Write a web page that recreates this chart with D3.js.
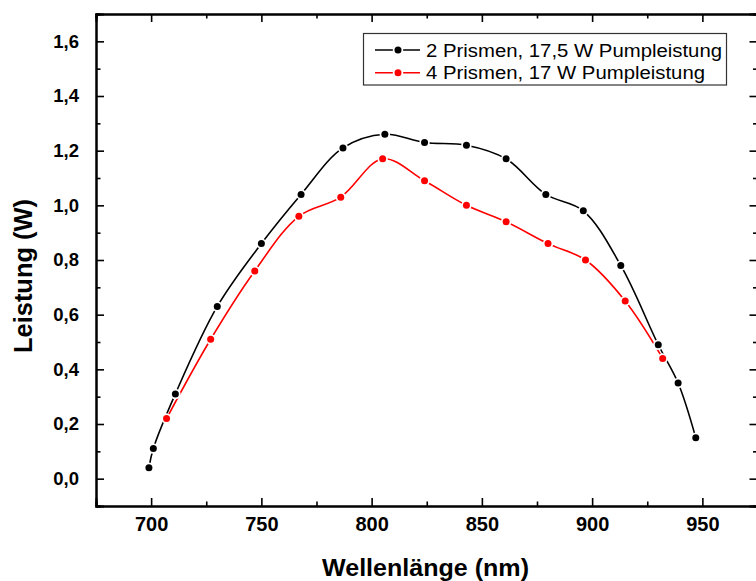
<!DOCTYPE html>
<html>
<head>
<meta charset="utf-8">
<script src="https://cdn.jsdelivr.net/npm/d3@7"></script>
<style>
  body { margin: 0; background: #fff; }
  text { font-family: Arial, "Liberation Sans", sans-serif; }
</style>
</head>
<body>
<svg id="chart" width="756" height="581"></svg>
<script>
'use strict';

// data
const blackX = [699, 701, 711, 730, 750, 768, 787, 806, 824, 843, 861, 879, 896, 913, 930, 939, 947];
const blackY = [0.04, 0.11, 0.31, 0.63, 0.86, 1.04, 1.21, 1.26, 1.23, 1.22, 1.17, 1.04, 0.98, 0.78, 0.49, 0.35, 0.15];
const redX = [707, 727, 747, 767, 786, 805, 824, 843, 861, 880, 897, 915, 932];
const redY = [0.22, 0.51, 0.76, 0.96, 1.03, 1.17, 1.09, 1.00, 0.94, 0.86, 0.80, 0.65, 0.44];
const seriesNames = ['2 Prismen, 17,5 W Pumpleistung', '4 Prismen, 17 W Pumpleistung'];
const seriesColors = ['#000000', '#ff0000'];
const xTicks = [700, 750, 800, 850, 900, 950];
const xMinor = [675, 725, 775, 825, 875, 925, 975];
const yTicks = [0, 0.2, 0.4, 0.6, 0.8, 1.0, 1.2, 1.4, 1.6];
const yMinor = [-0.1, 0.1, 0.3, 0.5, 0.7, 0.9, 1.1, 1.3, 1.5, 1.7];

const plotL = 96, plotR = 757.5, plotT = 14, plotB = 506;

const svg = d3.select('#chart');

const x = d3.scaleLinear().domain([675, 975]).range([plotL, plotR]);
const y = d3.scaleLinear().domain([-0.1, 1.7]).range([plotB, plotT]);

const fmt = d => d3.format('.1f')(d).replace('.', ',');

let series = [
    { name: seriesNames[0], color: seriesColors[0], pts: blackX.map((v, i) => [v, blackY[i]]), len: 296 },
    { name: seriesNames[1], color: seriesColors[1], pts: redX.map((v, i) => [v, redY[i]]), len: 279 }
];

const line = d3.line()
    .x(d => x(d[0]))
    .y(d => y(d[1]))
    .curve(d3.curveCatmullRom.alpha(0.5));

// curves
series.forEach(s => {
    svg.append('path')
        .attr('d', line(s.pts))
        .attr('fill', 'none')
        .attr('stroke', s.color)
        .attr('stroke-width', 1.6);
});

// markers with white halo (gap in the line around each dot)
series.forEach(s => {
    svg.selectAll(null)
        .data(s.pts)
        .enter().append('circle')
        .attr('cx', d => x(d[0]))
        .attr('cy', d => y(d[1]))
        .attr('r', 3.5)
        .attr('fill', s.color)
        .attr('stroke', '#fff')
        .attr('stroke-width', 3.5)
        .attr('paint-order', 'stroke');
});

// axes: bottom / left with labels, top / right just ticks, all ticks inward
const major = 8, minor = 4.5;

svg.append('g')
    .attr('transform', `translate(0,${plotB})`)
    .call(d3.axisBottom(x).tickValues(xMinor).tickSize(-minor).tickFormat(''));
svg.append('g')
    .attr('class', 'xaxis')
    .attr('transform', `translate(0,${plotB})`)
    .call(d3.axisBottom(x).tickValues(xTicks).tickSize(-major).tickPadding(11).tickFormat(d3.format('d')));
svg.append('g')
    .attr('transform', `translate(0,${plotT})`)
    .call(d3.axisTop(x).tickValues(xMinor).tickSize(-minor).tickFormat(''));
svg.append('g')
    .attr('transform', `translate(0,${plotT})`)
    .call(d3.axisTop(x).tickValues(xTicks).tickSize(-major).tickFormat(''));

svg.append('g')
    .attr('transform', `translate(${plotL},0)`)
    .call(d3.axisLeft(y).tickValues(yMinor).tickSize(-minor).tickFormat(''));
svg.append('g')
    .attr('class', 'yaxis')
    .attr('transform', `translate(${plotL},0)`)
    .call(d3.axisLeft(y).tickValues(yTicks).tickSize(-major).tickPadding(17).tickFormat(fmt));
svg.append('g')
    .attr('transform', `translate(${plotR},0)`)
    .call(d3.axisRight(y).tickValues(yMinor).tickSize(-minor).tickFormat(''));
svg.append('g')
    .attr('transform', `translate(${plotR},0)`)
    .call(d3.axisRight(y).tickValues(yTicks).tickSize(-major).tickFormat(''));

svg.selectAll('.domain').attr('stroke', '#000').attr('stroke-width', 2);
svg.selectAll('.tick line').attr('stroke', '#000').attr('stroke-width', 1.6);
svg.selectAll('.xaxis text, .yaxis text')
    .attr('fill', '#000')
    .style('font-weight', 'bold')
    .style('font-family', 'Arial, "Liberation Sans", sans-serif');
svg.selectAll('.xaxis text').style('font-size', '20px');
svg.selectAll('.yaxis text').style('font-size', '18.5px');

// axis titles
svg.append('text')
    .attr('x', 322)
    .attr('y', 576)
    .attr('textLength', 207)
    .attr('lengthAdjust', 'spacingAndGlyphs')
    .style('font-size', '23px')
    .style('font-weight', 'bold')
    .text('Wellenlänge (nm)');

svg.append('text')
    .attr('transform', `translate(31.5,353) rotate(-90)`)
    .attr('textLength', 154)
    .attr('lengthAdjust', 'spacingAndGlyphs')
    .style('font-size', '25px')
    .style('font-weight', 'bold')
    .text('Leistung (W)');

// legend
const lg = svg.append('g');
lg.append('rect')
    .attr('x', 363.5).attr('y', 33.5)
    .attr('width', 363).attr('height', 51.5)
    .attr('fill', '#fff')
    .attr('stroke', '#333')
    .attr('stroke-width', 1.2);

series.forEach((s, i) => {
    const cy = 50 + i * 22.7;
    lg.append('line')
        .attr('x1', 375).attr('x2', 420)
        .attr('y1', cy).attr('y2', cy)
        .attr('stroke', s.color).attr('stroke-width', 1.6);
    lg.append('circle')
        .attr('cx', 398).attr('cy', cy).attr('r', 3.5)
        .attr('fill', s.color)
        .attr('stroke', '#fff').attr('stroke-width', 3.5)
        .attr('paint-order', 'stroke');
    lg.append('text')
        .attr('x', 426).attr('y', cy + 6.5)
        .attr('textLength', s.len)
        .attr('lengthAdjust', 'spacingAndGlyphs')
        .style('font-size', '18px')
        .attr('fill', '#000')
        .text(s.name);
});
</script>
</body>
</html>
